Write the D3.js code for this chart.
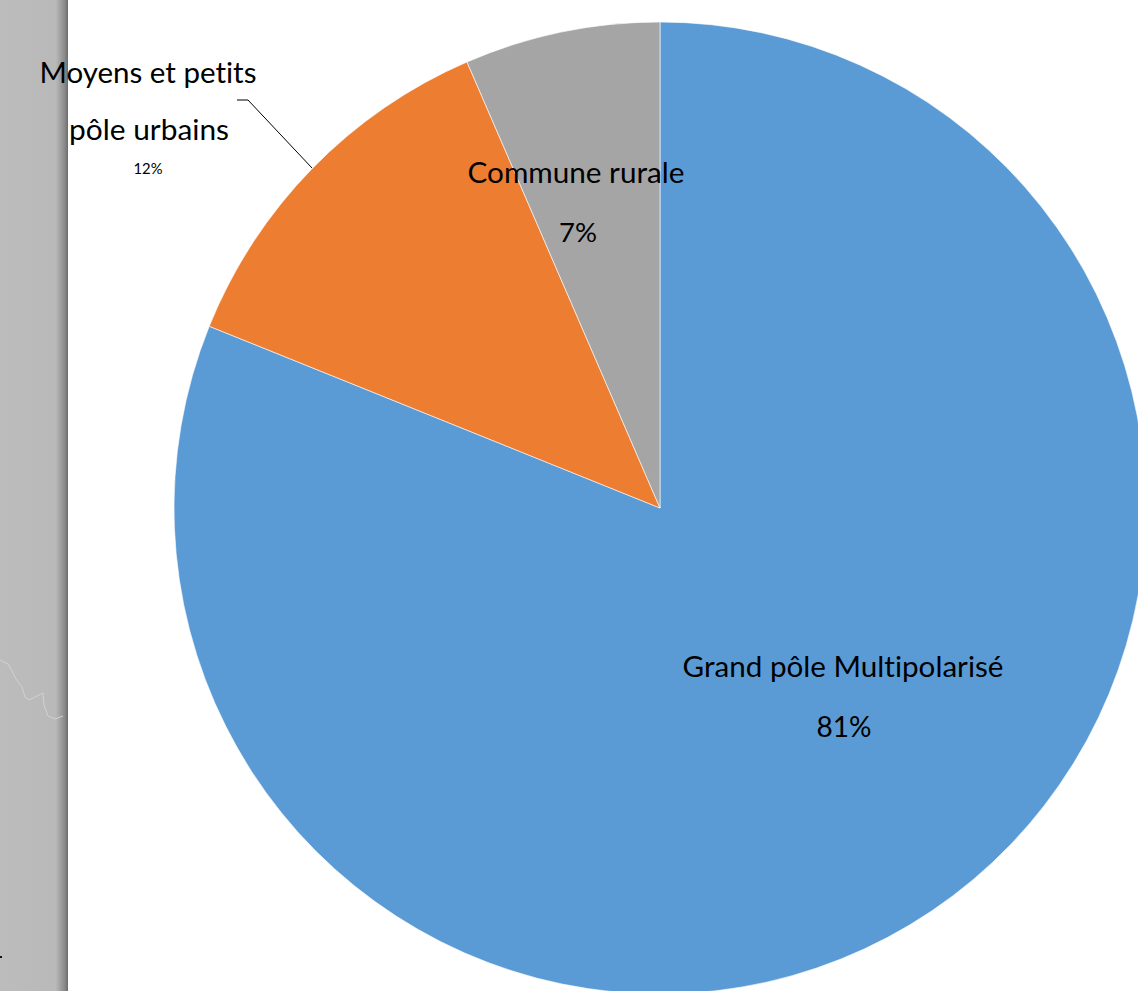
<!DOCTYPE html>
<html>
<head>
<meta charset="utf-8">
<script src="https://cdn.jsdelivr.net/npm/d3@7"></script>
<style>
  html, body { margin: 0; padding: 0; background: #fff; }
  svg { display: block; }
  text { font-family: "Lato", "Open Sans", "Noto Sans", sans-serif; fill: #000; font-variant-ligatures: none; font-feature-settings: "liga" 0, "clig" 0; }
</style>
</head>
<body>
<svg id="chart" width="1138" height="991"></svg>
<script>
// ---- data ----
const categories = ["Grand pôle Multipolarisé", "Moyens et petits pôle urbains", "Commune rurale"];
const values = [81.1, 12.4, 6.5];
const percentLabels = ["81%", "12%", "7%"];
const nameLines = [["Grand pôle Multipolarisé"], ["Moyens et petits", "pôle urbains"], ["Commune rurale"]];
const colors = ["#5B9BD5", "#ED7D31", "#A5A5A5"];

// ---- layout ----
const W = 1138, H = 991;
const cx = 660, cy = 508, R = 486;
const svg = d3.select("#chart");

// left grey panel with shadow edge
const defs = svg.append("defs");
const grad = defs.append("linearGradient").attr("id", "edge").attr("x1", "0").attr("x2", "1").attr("y1", "0").attr("y2", "0");
grad.append("stop").attr("offset", "0").attr("stop-color", "#bcbcbc");
grad.append("stop").attr("offset", "0.82").attr("stop-color", "#b9b9b9");
grad.append("stop").attr("offset", "0.95").attr("stop-color", "#8a8a8a");
grad.append("stop").attr("offset", "1").attr("stop-color", "#6c6c6c");
svg.append("rect").attr("x", 0).attr("y", 0).attr("width", 68).attr("height", H).attr("fill", "url(#edge)");
svg.append("path")
  .attr("d", d3.line()([[0,660],[8,664],[12,671],[16,679],[22,687],[25,697],[29,700],[43,693],[44,705],[48,716],[55,719],[63,716]]))
  .attr("fill", "none").attr("stroke", "#d2d2d2").attr("stroke-width", 1);
svg.append("rect").attr("x", 0).attr("y", 956).attr("width", 2).attr("height", 2).attr("fill", "#111");

// pie
const pie = d3.pie().sort(null).value(d => d)(values);
const arc = d3.arc().innerRadius(0).outerRadius(R);
const g = svg.append("g").attr("transform", `translate(${cx},${cy})`);
g.selectAll("path.slice").data(pie).join("path")
  .attr("class", "slice")
  .attr("d", arc)
  .attr("fill", (d, i) => colors[i])
  .attr("stroke", "#ffffff")
  .attr("stroke-width", 0.6);

// leader line for outside label
svg.append("polyline")
  .attr("points", "237,100 248,100 312,168")
  .attr("fill", "none").attr("stroke", "#000").attr("stroke-width", 1);

// labels
const labelLayout = [
  {cat: 0, line: 0, x: 843, y: 677, w: 321},
  {cat: 0, line: -1, x: 844, y: 737, w: 55},
  {cat: 1, line: 0, x: 148, y: 83, w: 217},
  {cat: 1, line: 1, x: 149, y: 140, w: 160},
  {cat: 1, line: -1, x: 148, y: 174, w: 29},
  {cat: 2, line: 0, x: 576, y: 183, w: 217},
  {cat: 2, line: -1, x: 578, y: 242, w: 38}
];
labelLayout.forEach(L => {
  const txt = L.line < 0 ? percentLabels[L.cat] : nameLines[L.cat][L.line];
  const t = svg.append("text")
    .attr("x", L.x).attr("y", L.y)
    .attr("text-anchor", "middle")
    .style("font-size", "30px")
    .text(txt);
  const m = t.node().getComputedTextLength();
  t.style("font-size", (30 * L.w / m).toFixed(2) + "px");
});
</script>
</body>
</html>
